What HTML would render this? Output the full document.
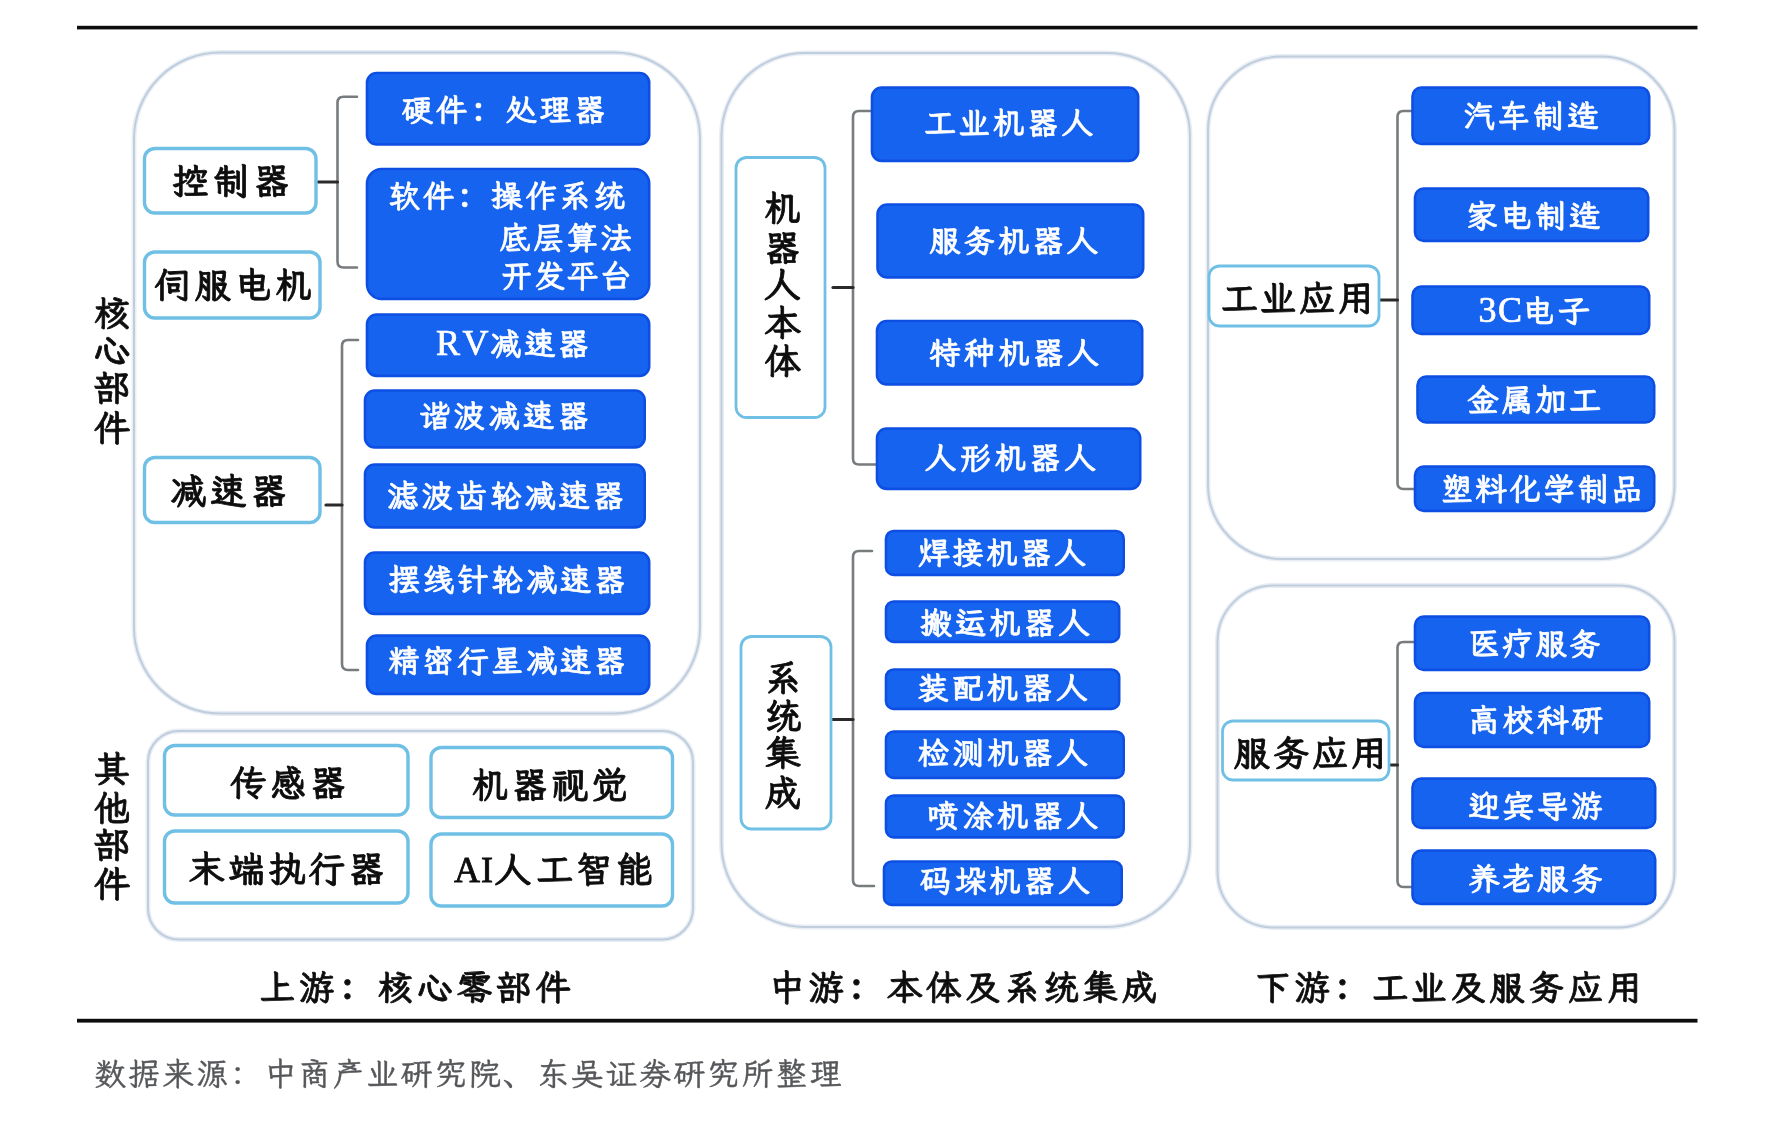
<!DOCTYPE html><html lang="zh-CN"><head><meta charset="utf-8"><title>机器人产业链</title>
<style>html,body{margin:0;padding:0;background:#fff}svg{display:block}text{font-family:"Liberation Serif","LXGW WenKai TC","Noto Serif CJK SC",serif;font-weight:600;text-anchor:middle}.w{fill:#fff;stroke:#fff;stroke-width:.7px}.k{fill:#0a0a0a;stroke:#0a0a0a;stroke-width:.8px}.g{fill:#55575a;stroke:#55575a;stroke-width:.45px;font-weight:400}.l{font-weight:400}.p{font-family:"Noto Serif CJK SC","Liberation Serif",serif}</style></head><body>
<svg width="1772" height="1128" viewBox="0 0 1772 1128">
<defs><filter id="b" x="0" y="0" width="1772" height="1128" filterUnits="userSpaceOnUse"><feGaussianBlur stdDeviation="0.55"/></filter></defs>
<rect width="1772" height="1128" fill="#fff"/>
<g filter="url(#b)">
<rect x="77" y="25.8" width="1620.5" height="3.6" fill="#111"/>
<rect x="77" y="1018.8" width="1620.5" height="3.8" fill="#111"/>
<rect x="134.0" y="52.5" width="566.0" height="661.0" rx="86.0" fill="none" stroke="#e9eef5" stroke-width="5.0"/>
<rect x="134.0" y="52.5" width="566.0" height="661.0" rx="86.0" fill="none" stroke="#bfcddd" stroke-width="2.0"/>
<rect x="148.0" y="731.0" width="545.0" height="208.5" rx="31.0" fill="none" stroke="#e9eef5" stroke-width="5.0"/>
<rect x="148.0" y="731.0" width="545.0" height="208.5" rx="31.0" fill="none" stroke="#bfcddd" stroke-width="2.0"/>
<rect x="721.5" y="53.0" width="468.5" height="874.0" rx="83.0" fill="none" stroke="#e9eef5" stroke-width="5.0"/>
<rect x="721.5" y="53.0" width="468.5" height="874.0" rx="83.0" fill="none" stroke="#bfcddd" stroke-width="2.0"/>
<rect x="1208.0" y="56.5" width="466.5" height="502.5" rx="74.0" fill="none" stroke="#e9eef5" stroke-width="5.0"/>
<rect x="1208.0" y="56.5" width="466.5" height="502.5" rx="74.0" fill="none" stroke="#bfcddd" stroke-width="2.0"/>
<rect x="1217.5" y="585.5" width="457.0" height="342.0" rx="56.0" fill="none" stroke="#e9eef5" stroke-width="5.0"/>
<rect x="1217.5" y="585.5" width="457.0" height="342.0" rx="56.0" fill="none" stroke="#bfcddd" stroke-width="2.0"/>
<path d="M357.0 96.8 H343.5 Q337.5 96.8 337.5 102.8 V261.5 Q337.5 267.5 343.5 267.5 H357.0" fill="none" stroke="#777b7e" stroke-width="2.6" stroke-linecap="round"/>
<path d="M318.0 182.0 H337.5" stroke="#2b2b2b" stroke-width="3.2" stroke-linecap="round"/>
<path d="M358.0 340.0 H348.0 Q342.0 340.0 342.0 346.0 V664.0 Q342.0 670.0 348.0 670.0 H358.0" fill="none" stroke="#777b7e" stroke-width="2.6" stroke-linecap="round"/>
<path d="M326.0 505.0 H342.0" stroke="#2b2b2b" stroke-width="3.2" stroke-linecap="round"/>
<path d="M872.0 111.0 H859.0 Q853.0 111.0 853.0 117.0 V458.5 Q853.0 464.5 859.0 464.5 H877.0" fill="none" stroke="#777b7e" stroke-width="2.6" stroke-linecap="round"/>
<path d="M833.0 287.5 H853.0" stroke="#2b2b2b" stroke-width="3.2" stroke-linecap="round"/>
<path d="M872.0 551.0 H859.0 Q853.0 551.0 853.0 557.0 V880.0 Q853.0 886.0 859.0 886.0 H874.0" fill="none" stroke="#777b7e" stroke-width="2.6" stroke-linecap="round"/>
<path d="M832.0 719.5 H853.0" stroke="#2b2b2b" stroke-width="3.2" stroke-linecap="round"/>
<path d="M1413.0 111.0 H1403.5 Q1397.5 111.0 1397.5 117.0 V483.0 Q1397.5 489.0 1403.5 489.0 H1415.0" fill="none" stroke="#777b7e" stroke-width="2.6" stroke-linecap="round"/>
<path d="M1380.0 300.0 H1397.5" stroke="#2b2b2b" stroke-width="3.2" stroke-linecap="round"/>
<path d="M1415.0 642.0 H1403.5 Q1397.5 642.0 1397.5 648.0 V881.0 Q1397.5 887.0 1403.5 887.0 H1413.0" fill="none" stroke="#777b7e" stroke-width="2.6" stroke-linecap="round"/>
<path d="M1384.0 765.0 H1397.5" stroke="#2b2b2b" stroke-width="3.2" stroke-linecap="round"/>
<rect x="144.5" y="148.5" width="171.5" height="64.5" rx="10.3" fill="#fff" stroke="#6fc0e6" stroke-width="3.4"/>
<rect x="144.5" y="252.0" width="175.5" height="66.0" rx="10.3" fill="#fff" stroke="#6fc0e6" stroke-width="3.4"/>
<rect x="144.5" y="457.5" width="175.5" height="65.0" rx="10.3" fill="#fff" stroke="#6fc0e6" stroke-width="3.4"/>
<rect x="164.5" y="745.5" width="243.5" height="69.5" rx="10.3" fill="#fff" stroke="#6fc0e6" stroke-width="3.4"/>
<rect x="164.5" y="831.0" width="243.5" height="72.0" rx="10.3" fill="#fff" stroke="#6fc0e6" stroke-width="3.4"/>
<rect x="431.0" y="747.5" width="241.5" height="70.0" rx="10.3" fill="#fff" stroke="#6fc0e6" stroke-width="3.4"/>
<rect x="431.0" y="834.0" width="241.5" height="72.0" rx="10.3" fill="#fff" stroke="#6fc0e6" stroke-width="3.4"/>
<rect x="736.0" y="157.5" width="89.0" height="260.0" rx="10.6" fill="#fff" stroke="#6fc0e6" stroke-width="2.8"/>
<rect x="741.0" y="636.5" width="90.0" height="192.5" rx="10.6" fill="#fff" stroke="#6fc0e6" stroke-width="2.8"/>
<rect x="1209.0" y="266.0" width="170.0" height="60.0" rx="10.6" fill="#fff" stroke="#6fc0e6" stroke-width="2.8"/>
<rect x="1222.5" y="721.0" width="166.5" height="59.0" rx="10.6" fill="#fff" stroke="#6fc0e6" stroke-width="2.8"/>
<rect x="367.0" y="73.0" width="282.2" height="71.4" rx="9.7" fill="#1763f0" stroke="#0f4fe2" stroke-width="2.6"/>
<rect x="367.0" y="169.0" width="282.2" height="129.9" rx="14.7" fill="#1763f0" stroke="#0f4fe2" stroke-width="2.6"/>
<rect x="367.0" y="314.5" width="282.2" height="61.4" rx="9.7" fill="#1763f0" stroke="#0f4fe2" stroke-width="2.6"/>
<rect x="365.0" y="390.5" width="279.7" height="56.9" rx="9.7" fill="#1763f0" stroke="#0f4fe2" stroke-width="2.6"/>
<rect x="365.0" y="464.5" width="279.7" height="62.9" rx="9.7" fill="#1763f0" stroke="#0f4fe2" stroke-width="2.6"/>
<rect x="365.0" y="552.5" width="284.2" height="61.4" rx="9.7" fill="#1763f0" stroke="#0f4fe2" stroke-width="2.6"/>
<rect x="367.0" y="635.5" width="282.2" height="58.4" rx="9.7" fill="#1763f0" stroke="#0f4fe2" stroke-width="2.6"/>
<rect x="872.0" y="87.5" width="266.2" height="73.4" rx="9.7" fill="#1763f0" stroke="#0f4fe2" stroke-width="2.6"/>
<rect x="877.5" y="204.5" width="265.7" height="72.9" rx="9.7" fill="#1763f0" stroke="#0f4fe2" stroke-width="2.6"/>
<rect x="877.0" y="321.0" width="265.2" height="63.4" rx="9.7" fill="#1763f0" stroke="#0f4fe2" stroke-width="2.6"/>
<rect x="877.0" y="428.5" width="263.2" height="60.4" rx="9.7" fill="#1763f0" stroke="#0f4fe2" stroke-width="2.6"/>
<rect x="886.0" y="531.0" width="237.7" height="43.9" rx="7.7" fill="#1763f0" stroke="#0f4fe2" stroke-width="2.6"/>
<rect x="886.0" y="601.5" width="233.2" height="40.4" rx="7.7" fill="#1763f0" stroke="#0f4fe2" stroke-width="2.6"/>
<rect x="886.0" y="669.5" width="233.2" height="39.4" rx="7.7" fill="#1763f0" stroke="#0f4fe2" stroke-width="2.6"/>
<rect x="886.0" y="731.5" width="237.7" height="46.4" rx="7.7" fill="#1763f0" stroke="#0f4fe2" stroke-width="2.6"/>
<rect x="886.0" y="795.5" width="237.7" height="41.9" rx="7.7" fill="#1763f0" stroke="#0f4fe2" stroke-width="2.6"/>
<rect x="884.0" y="861.5" width="237.7" height="43.4" rx="7.7" fill="#1763f0" stroke="#0f4fe2" stroke-width="2.6"/>
<rect x="1412.5" y="87.5" width="236.7" height="56.4" rx="8.7" fill="#1763f0" stroke="#0f4fe2" stroke-width="2.6"/>
<rect x="1415.0" y="188.5" width="233.2" height="52.4" rx="8.7" fill="#1763f0" stroke="#0f4fe2" stroke-width="2.6"/>
<rect x="1412.5" y="286.5" width="236.7" height="47.4" rx="8.7" fill="#1763f0" stroke="#0f4fe2" stroke-width="2.6"/>
<rect x="1417.5" y="376.5" width="236.7" height="45.9" rx="8.7" fill="#1763f0" stroke="#0f4fe2" stroke-width="2.6"/>
<rect x="1415.0" y="466.5" width="239.2" height="44.4" rx="8.7" fill="#1763f0" stroke="#0f4fe2" stroke-width="2.6"/>
<rect x="1415.0" y="616.5" width="234.2" height="53.4" rx="8.7" fill="#1763f0" stroke="#0f4fe2" stroke-width="2.6"/>
<rect x="1415.0" y="693.0" width="234.2" height="53.9" rx="8.7" fill="#1763f0" stroke="#0f4fe2" stroke-width="2.6"/>
<rect x="1412.5" y="778.5" width="242.7" height="49.4" rx="8.7" fill="#1763f0" stroke="#0f4fe2" stroke-width="2.6"/>
<rect x="1412.5" y="850.5" width="242.7" height="53.4" rx="8.7" fill="#1763f0" stroke="#0f4fe2" stroke-width="2.6"/>
<text class="k" x="190.4 231.0 271.7" y="194.1" font-size="36.5">控制器</text>
<text class="k" x="172.6 212.9 253.1 293.4" y="298.1" font-size="36.5">伺服电机</text>
<text class="k" x="188.0 228.5 269.0" y="504.1" font-size="36.5">减速器</text>
<text class="k" x="247.9 288.0 328.2" y="795.6" font-size="36.5">传感器</text>
<text class="k" x="206.7 246.7 286.8 326.8 366.8" y="882.1" font-size="36.5">末端执行器</text>
<text class="k" x="490.1 529.9 569.6 609.4" y="798.1" font-size="36.5">机器视觉</text>
<text class="k" x="467.0 487.0 513.0 554.5 594.0 634.5" y="882.1" font-size="36.5"><tspan class="l" font-size="36">A</tspan><tspan class="l" font-size="36">I</tspan>人工智能</text>
<text class="k" x="1239.3 1278.2 1317.1 1356.0" y="310.6" font-size="36.5">工业应用</text>
<text class="k" x="1252.1 1291.1 1330.1 1369.1" y="765.6" font-size="36.5">服务应用</text>
<text class="k" x="112.0" y="325.6" font-size="36.5">核</text>
<text class="k" x="112.0" y="363.1" font-size="36.5">心</text>
<text class="k" x="112.0" y="400.6" font-size="36.5">部</text>
<text class="k" x="112.0" y="440.6" font-size="36.5">件</text>
<text class="k" x="112.0" y="782.1" font-size="36.5">其</text>
<text class="k" x="112.0" y="820.6" font-size="36.5">他</text>
<text class="k" x="112.0" y="858.1" font-size="36.5">部</text>
<text class="k" x="112.0" y="897.1" font-size="36.5">件</text>
<text class="k" x="782.5" y="220.6" font-size="36.5">机</text>
<text class="k" x="782.5" y="260.6" font-size="36.5">器</text>
<text class="k" x="782.5" y="297.1" font-size="36.5">人</text>
<text class="k" x="782.5" y="335.6" font-size="36.5">本</text>
<text class="k" x="782.5" y="374.1" font-size="36.5">体</text>
<text class="k" x="783.0" y="690.6" font-size="36.5">系</text>
<text class="k" x="783.0" y="729.1" font-size="36.5">统</text>
<text class="k" x="783.0" y="766.1" font-size="36.5">集</text>
<text class="k" x="783.0" y="805.6" font-size="36.5">成</text>
<text class="w" x="417.0 451.6 486.2 520.8 555.4 590.0" y="120.8" font-size="31.5">硬件<tspan class="p">：</tspan>处理器</text>
<text class="w" x="404.3 438.5 472.6 506.7 540.9 575.0 609.2" y="207.3" font-size="31.5">软件<tspan class="p">：</tspan>操作系统</text>
<text class="w" x="515.0 548.7 582.3 616.0" y="248.8" font-size="31.5">底层算法</text>
<text class="w" x="516.7 549.7 582.8 615.8" y="287.3" font-size="31.5">开发平台</text>
<text class="w" x="448.0 475.5 505.5 540.0 573.5" y="355.3" font-size="31.5"><tspan class="l" font-size="36">R</tspan><tspan class="l" font-size="36">V</tspan>减速器</text>
<text class="w" x="434.6 469.3 504.0 538.7 573.4" y="427.3" font-size="31.5">谐波减速器</text>
<text class="w" x="403.0 437.3 471.5 505.8 540.0 574.3 608.5" y="507.3" font-size="31.5">滤波齿轮减速器</text>
<text class="w" x="403.9 438.3 472.7 507.0 541.4 575.7 610.1" y="591.3" font-size="31.5">摆线针轮减速器</text>
<text class="w" x="403.9 438.3 472.7 507.0 541.4 575.7 610.1" y="672.3" font-size="31.5">精密行星减速器</text>
<text class="w" x="940.0 974.4 1008.7 1043.1 1077.5" y="133.8" font-size="31.5">工业机器人</text>
<text class="w" x="944.9 979.3 1013.7 1048.2 1082.6" y="252.3" font-size="31.5">服务机器人</text>
<text class="w" x="944.8 979.4 1014.0 1048.6 1083.2" y="363.8" font-size="31.5">特种机器人</text>
<text class="w" x="940.8 975.7 1010.5 1045.3 1080.2" y="468.8" font-size="31.5">人形机器人</text>
<text class="w" x="933.8 967.9 1002.0 1036.1 1070.2" y="563.8" font-size="31.5">焊接机器人</text>
<text class="w" x="935.8 970.4 1005.0 1039.6 1074.2" y="633.8" font-size="31.5">搬运机器人</text>
<text class="w" x="933.0 967.7 1002.5 1037.2 1072.0" y="698.8" font-size="31.5">装配机器人</text>
<text class="w" x="933.8 968.4 1003.0 1037.6 1072.2" y="763.8" font-size="31.5">检测机器人</text>
<text class="w" x="943.0 977.9 1012.7 1047.6 1082.5" y="827.3" font-size="31.5">喷涂机器人</text>
<text class="w" x="935.8 970.4 1005.0 1039.6 1074.2" y="892.3" font-size="31.5">码垛机器人</text>
<text class="w" x="1479.1 1513.7 1548.3 1582.9" y="127.3" font-size="31.5">汽车制造</text>
<text class="w" x="1481.7 1516.0 1550.4 1584.8" y="227.3" font-size="31.5">家电制造</text>
<text class="w" x="1487.5 1510.0 1538.5 1574.0" y="322.3" font-size="31.5"><tspan class="l" font-size="36">3</tspan><tspan class="l" font-size="36">C</tspan>电子</text>
<text class="w" x="1483.0 1517.0 1551.0 1585.0" y="410.8" font-size="31.5">金属加工</text>
<text class="w" x="1457.1 1491.1 1525.0 1559.0 1593.0 1626.9" y="500.3" font-size="31.5">塑料化学制品</text>
<text class="w" x="1484.2 1517.7 1551.2 1584.8" y="655.3" font-size="31.5">医疗服务</text>
<text class="w" x="1484.0 1518.3 1552.6 1586.9" y="731.3" font-size="31.5">高校科研</text>
<text class="w" x="1484.0 1518.3 1552.7 1587.0" y="817.3" font-size="31.5">迎宾导游</text>
<text class="w" x="1484.0 1518.3 1552.7 1587.0" y="890.3" font-size="31.5">养老服务</text>
<text class="k" x="277.4 316.8 356.2 395.6 434.9 474.3 513.7 553.1" y="999.5" font-size="35.5">上游<tspan class="p">：</tspan>核心零部件</text>
<text class="k" x="787.0 826.2 865.3 904.5 943.6 982.8 1022.0 1061.1 1100.3 1139.4" y="999.5" font-size="35.5">中游<tspan class="p">：</tspan>本体及系统集成</text>
<text class="k" x="1273.1 1312.2 1351.2 1390.2 1429.3 1468.3 1507.3 1546.4 1585.4 1624.5" y="1000.3" font-size="35.5">下游<tspan class="p">：</tspan>工业及服务应用</text>
<text class="g" x="110.1 144.1 178.2 212.3 246.3 280.4 314.5 348.5 382.6 416.6 450.7 484.8 518.8 552.9 587.0 621.0 655.1 689.2 723.2 757.3 791.4 825.4" y="1084.5" font-size="32.0">数据来源<tspan class="p">：</tspan>中商产业研究院<tspan class="p">、</tspan>东吴证券研究所整理</text>
</g></svg></body></html>
